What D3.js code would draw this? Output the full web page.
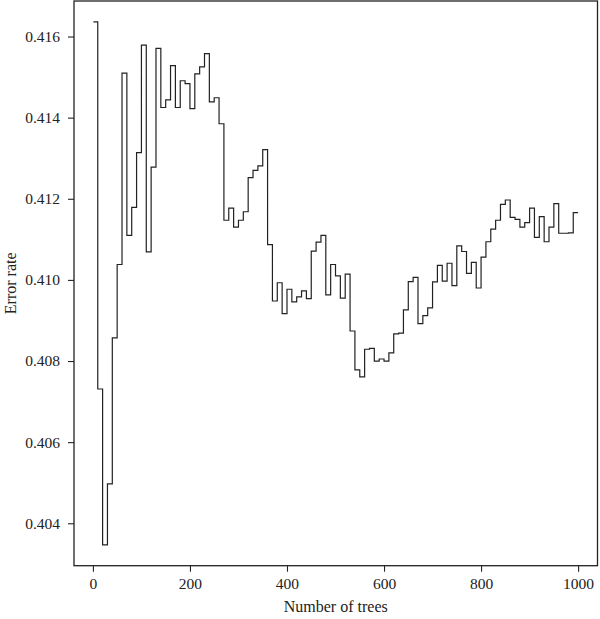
<!DOCTYPE html>
<html lang="en">
<head>
    <meta charset="UTF-8">
    <title>Error rate</title>
    <script src="https://d3js.org/d3.v7.min.js"></script>
    <style>
        body { margin: 0; background: #fff; }
        text { font-family: "Liberation Serif", "DejaVu Serif", serif; fill: #222; }
    </style>
</head>
<body>
    <svg width="600" height="619" id="chart"></svg>

    <script>
        // number of trees at each recorded step (last one closes the final step)
        var trees = [1, 10, 20, 30, 40, 50, 60, 70, 80, 90,
            100, 110, 120, 130, 140, 150, 160, 170, 180, 190,
            200, 210, 220, 230, 240, 250, 260, 270, 280, 290,
            300, 310, 320, 330, 340, 350, 360, 370, 380, 390,
            400, 410, 420, 430, 440, 450, 460, 470, 480, 490,
            500, 510, 520, 530, 540, 550, 560, 570, 580, 590,
            600, 610, 620, 630, 640, 650, 660, 670, 680, 690,
            700, 710, 720, 730, 740, 750, 760, 770, 780, 790,
            800, 810, 820, 830, 840, 850, 860, 870, 880, 890,
            900, 910, 920, 930, 940, 950, 960, 970, 980, 990,
            1000];

        // OOB error rate
        var errorRate = [0.41636, 0.40731, 0.40347, 0.40497, 0.40857, 0.41038, 0.41510, 0.41110, 0.41179, 0.41314,
            0.41579, 0.41069, 0.41278, 0.41571, 0.41425, 0.41444, 0.41528, 0.41425, 0.41491, 0.41484,
            0.41422, 0.41508, 0.41525, 0.41558, 0.41439, 0.41449, 0.41385, 0.41147, 0.41177, 0.41130,
            0.41147, 0.41168, 0.41252, 0.41270, 0.41281, 0.41321, 0.41087, 0.40948, 0.40993, 0.40917,
            0.40977, 0.40946, 0.40958, 0.40973, 0.40954, 0.41071, 0.41093, 0.41110, 0.40963, 0.41038,
            0.41010, 0.40955, 0.41014, 0.40874, 0.40778, 0.40761, 0.40829, 0.40831, 0.40800, 0.40805,
            0.40800, 0.40820, 0.40867, 0.40869, 0.40926, 0.40996, 0.41006, 0.40892, 0.40912, 0.40931,
            0.40995, 0.41036, 0.40997, 0.41041, 0.40986, 0.41084, 0.41070, 0.41016, 0.41043, 0.40980,
            0.41056, 0.41094, 0.41125, 0.41147, 0.41186, 0.41197, 0.41154, 0.41149, 0.41130, 0.41141,
            0.41177, 0.41105, 0.41156, 0.41094, 0.41130, 0.41188, 0.41115, 0.41115, 0.41116, 0.41166,
            0.41166];

        var xTicks = [0, 200, 400, 600, 800, 1000];
        var yTicks = [0.404, 0.406, 0.408, 0.410, 0.412, 0.414, 0.416];

        var svg = d3.select("#chart"),
            plotL = 74, plotR = 597.5, plotT = 1, plotB = 565.7;

        var data = trees.map((t, i) => ({ t: t, v: errorRate[i] }));

        // R style 4% padding of the ranges
        var xExt = d3.extent(trees), xPad = (xExt[1] - xExt[0]) * 0.04;
        var yExt = d3.extent(errorRate), yPad = (yExt[1] - yExt[0]) * 0.04;

        var x = d3.scaleLinear()
            .domain([xExt[0] - xPad, xExt[1] + xPad])
            .range([plotL, plotR]);

        var y = d3.scaleLinear()
            .domain([yExt[0] - yPad, yExt[1] + yPad])
            .range([plotB, plotT]);

        // axes
        var xAxis = svg.append("g")
            .attr("transform", "translate(0," + plotB + ")")
            .call(d3.axisBottom(x).tickValues(xTicks).tickSize(6).tickPadding(6).tickFormat(d3.format("d")));

        var yAxis = svg.append("g")
            .attr("transform", "translate(" + plotL + ",0)")
            .call(d3.axisLeft(y).tickValues(yTicks).tickSize(6).tickPadding(8).tickFormat(d3.format(".3f")));

        [xAxis, yAxis].forEach(g => {
            g.select(".domain").remove();
            g.selectAll("line").attr("stroke", "#222").attr("stroke-width", 1.1);
            g.selectAll("text").attr("font-size", 15.5).attr("fill", "#222")
                .attr("font-family", "Liberation Serif, DejaVu Serif, serif");
        });

        // step line
        var line = d3.line()
            .x(d => x(d.t))
            .y(d => y(d.v))
            .curve(d3.curveStepAfter);

        svg.append("path")
            .datum(data)
            .attr("fill", "none")
            .attr("stroke", "#222")
            .attr("stroke-width", 1.2)
            .attr("d", line);

        // box
        svg.append("rect")
            .attr("x", plotL)
            .attr("y", plotT)
            .attr("width", plotR - plotL)
            .attr("height", plotB - plotT)
            .attr("fill", "none")
            .attr("stroke", "#222")
            .attr("stroke-width", 1.3);

        // axis titles
        svg.append("text")
            .attr("x", (plotL + plotR) / 2)
            .attr("y", 612)
            .attr("text-anchor", "middle")
            .attr("font-size", 16)
            .text("Number of trees");

        svg.append("text")
            .attr("transform", "translate(16," + (plotT + plotB) / 2 + ") rotate(-90)")
            .attr("text-anchor", "middle")
            .attr("font-size", 16)
            .text("Error rate");
    </script>
</body>
</html>
